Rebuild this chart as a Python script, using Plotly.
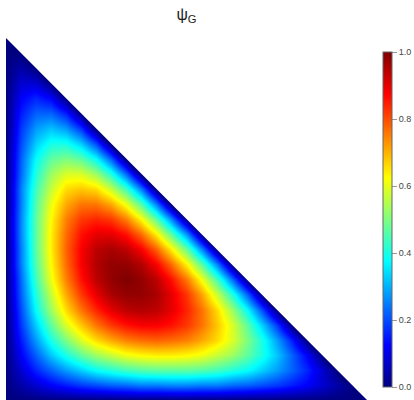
import plotly.graph_objects as go

# grid nodes of the reference triangle (x and y from 0 to 1 in steps of 1/24)
N = 25
x_nodes = [i / 24 for i in range(N)]
y_nodes = [j / 24 for j in range(N)]

# psi_G values at the grid nodes; one row per y level (bottom to top),
# last entry of each row is the value just beyond the diagonal edge
z_rows_raw = [
    [0, 0, 0, 0, 0, 0, 0, 0, 0, 0, 0, 0, 0, 0, 0, 0, 0, 0, 0, 0, 0, 0, 0, 0, 0],
    [0, .04, .08, .12, .15, .18, .20, .22, .23, .25, .25, .26, .26, .25, .25, .23, .22, .20, .18, .15, .12, .08, .04, 0, -.05],
    [0, .08, .16, .22, .28, .33, .38, .41, .44, .46, .47, .47, .47, .46, .44, .41, .38, .33, .28, .22, .16, .08, 0, -.09],
    [0, .12, .22, .32, .40, .47, .53, .57, .61, .63, .64, .64, .63, .61, .57, .53, .47, .40, .32, .22, .12, 0, -.13],
    [0, .15, .28, .40, .50, .59, .66, .71, .75, .77, .78, .77, .75, .71, .66, .59, .50, .40, .28, .15, 0, -.16],
    [0, .18, .33, .47, .59, .68, .76, .82, .86, .88, .88, .86, .82, .76, .68, .59, .47, .33, .18, 0, -.20],
    [0, .20, .38, .53, .66, .76, .84, .90, .94, .95, .94, .90, .84, .76, .66, .53, .38, .20, 0, -.22],
    [0, .22, .41, .57, .71, .82, .90, .96, .98, .98, .96, .90, .82, .71, .57, .41, .22, 0, -.25],
    [0, .23, .44, .61, .75, .86, .94, .98, 1.0, .98, .94, .86, .75, .61, .44, .23, 0, -.27],
    [0, .25, .46, .63, .77, .88, .95, .98, .98, .95, .88, .77, .63, .46, .25, 0, -.28],
    [0, .25, .47, .64, .78, .88, .94, .96, .94, .88, .78, .64, .47, .25, 0, -.29],
    [0, .26, .47, .64, .77, .86, .90, .90, .86, .77, .64, .47, .26, 0, -.30],
    [0, .26, .47, .63, .75, .82, .84, .82, .75, .63, .47, .26, 0, -.30],
    [0, .25, .46, .61, .71, .76, .76, .71, .61, .46, .25, 0, -.30],
    [0, .25, .44, .57, .66, .68, .66, .57, .44, .25, 0, -.30],
    [0, .23, .41, .53, .59, .59, .53, .41, .23, 0, -.29],
    [0, .22, .38, .47, .50, .47, .38, .22, 0, -.28],
    [0, .20, .33, .40, .40, .33, .20, 0, -.27],
    [0, .18, .28, .32, .28, .18, 0, -.25],
    [0, .15, .22, .22, .15, 0, -.22],
    [0, .12, .16, .12, 0, -.20],
    [0, .08, .08, 0, -.16],
    [0, .04, 0, -.13],
    [0, 0, -.09],
    [0, -.05],
]
# cells further outside the triangle are hidden by the white mask
z_rows = [row + [0] * (N - len(row)) for row in z_rows_raw]

tick_vals = [0.0, 0.2, 0.4, 0.6, 0.8, 1.0]
tick_text = ["0.0", "0.2", "0.4", "0.6", "0.8", "1.0"]

# classic "jet" ramp as seen in the reference colour bar
jet_colors = ["#00007F", "#0000FF", "#007FFF", "#00FFFF", "#7FFF7F",
              "#FFFF00", "#FF7F00", "#FF0000", "#7F0000"]
jet_scale = [[k / (len(jet_colors) - 1), c] for k, c in enumerate(jet_colors)]

# plot area: 362 px tall (y=38..400); colour bar from y=52 to y=387
plot_h = 362.0
fig = go.Figure()
fig.add_trace(go.Heatmap(
    x=x_nodes, y=y_nodes, z=z_rows,
    zmin=0, zmax=1, zsmooth="best",
    colorscale=jet_scale,
    colorbar=dict(
        x=383 / 414, xref="container", xanchor="left", xpad=0,
        y=(400 - 387) / plot_h, yref="paper", yanchor="bottom", ypad=0,
        len=335 / plot_h, lenmode="fraction", thickness=9,
        outlinewidth=1, outlinecolor="#666666",
        tickvals=tick_vals, ticktext=tick_text,
        ticks="outside", ticklen=5, tickcolor="#999999", tickwidth=1,
        tickfont=dict(size=9, color="#444444", family="Liberation Sans, Arial, sans-serif"),
    ),
    hoverinfo="skip",
))

# white mask over the region outside the triangle
fig.add_shape(type="path", path="M 0 1 L 1 0 L 1.1 0 L 1.1 1.1 L 0 1.1 Z",
              xref="x", yref="y", fillcolor="white", line=dict(width=0), layer="above")

fig.update_layout(
    width=414, height=400,
    margin=dict(l=6, r=47, t=38, b=0),
    paper_bgcolor="white", plot_bgcolor="white",
    title=dict(text="ψ<sub>G</sub>", x=186.5 / 414, xanchor="center",
               y=1 - 14 / 400, yanchor="middle",
               font=dict(size=16, color="#222222", family="Liberation Sans, Arial, sans-serif")),
    xaxis=dict(range=[0, 1], visible=False, showgrid=False, zeroline=False),
    yaxis=dict(range=[0, 1], visible=False, showgrid=False, zeroline=False),
)

fig.write_html("out.html")
